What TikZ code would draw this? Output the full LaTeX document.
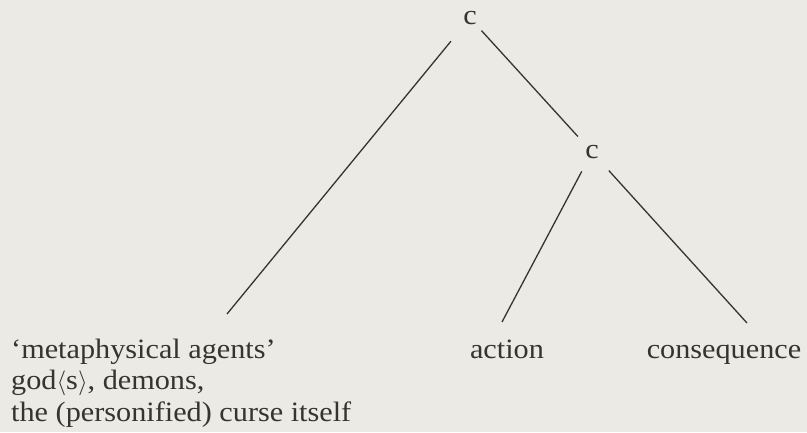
\documentclass[tikz,border=0pt]{standalone}
\usepackage{fontspec}
\setmainfont[FakeStretch=1.08]{Liberation Serif}
\definecolor{ink}{HTML}{343432}
\definecolor{paper}{HTML}{ECEAE4}
\newcommand\mytightlines{\lineskiplimit -30pt\relax}
\begin{document}
\begin{tikzpicture}[x=1pt,y=-1pt,
  lbl/.style={inner sep=0pt, font=\fontsize{28}{31.5}\selectfont\mytightlines, text=ink},
  edge/.style={draw=ink, line width=1.3pt}]
\fill[paper] (0,0) rectangle (807,432);
\useasboundingbox (0,0) rectangle (807,432);
\node[lbl] (root) at (470,18) {c};
\node[lbl] (c2) at (592,152) {c};
\node[lbl, anchor=base west, align=left] (ma) at (11,421)
  {‘metaphysical agents’\\god$\langle$s$\rangle$, demons,\\the (personified) curse itself};
\node[lbl, anchor=base] (act) at (507,358) {action};
\node[lbl, anchor=base] (cons) at (724,358) {consequence};
\coordinate (eM) at (227,314);
\coordinate (eA) at (502,322);
\coordinate (eC) at (747,323);
\draw[edge, shorten <=30pt] (root.center) -- (eM);
\draw[edge, shorten <=17pt, shorten >=21pt] (root.center) -- (c2.center);
\draw[edge, shorten <=22pt] (c2.center) -- (eA);
\draw[edge, shorten <=25pt] (c2.center) -- (eC);
\end{tikzpicture}
\end{document}
